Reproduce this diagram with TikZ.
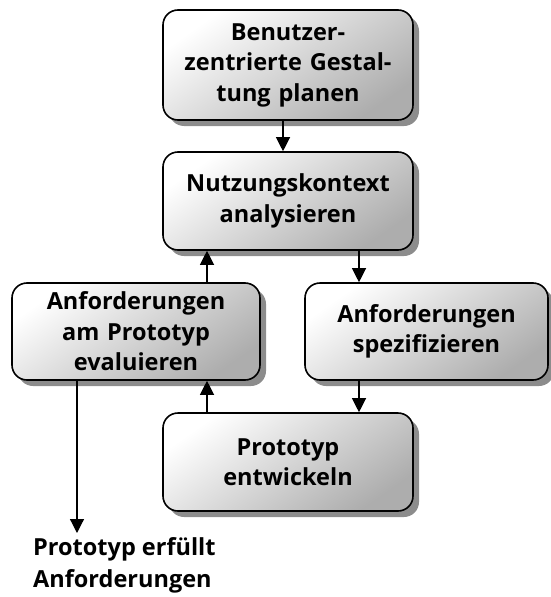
\documentclass[tikz,border=0pt]{standalone}
\usepackage{fontspec}
\setmainfont{Open Sans}
\usetikzlibrary{arrows.meta,shadows}

\begin{document}
\begin{tikzpicture}[x=1pt, y=-1pt,
		box/.style={draw=black, line width=1.6pt, rounded corners=15pt,
			shading=axis, top color=white, bottom color=black!32, shading angle=35,
			drop shadow={shadow xshift=6pt, shadow yshift=-6pt, fill=black!45, opacity=1},
			align=center, inner xsep=0pt, text width=250pt, minimum height=98pt,
			font=\fontsize{23.5}{30.5}\selectfont\bfseries},
		arr/.style={line width=1.2pt, -{Triangle[length=14pt,width=14pt]}}]
	\useasboundingbox (0,0) rectangle (550,597);

	\node[box, minimum height=110pt] (plan) at (288,65) {Benutzer-\\zentrierte Gestal-\\tung planen};
	\node[box] (kontext) at (288,201) {Nutzungskontext\\analysieren};
	\node[box, text width=248pt, minimum height=97pt] (evaluieren) at (136,331.5) {Anforderungen\\am Prototyp\\evaluieren};
	\node[box, text width=243pt, minimum height=97pt] (spezifizieren) at (426.5,331.5) {Anforderungen\\spezifizieren};
	\node[box] (entwickeln) at (288,462) {Prototyp\\entwickeln};
	\node[anchor=north west, align=left, inner sep=0pt, font=\fontsize{23.5}{32}\selectfont\bfseries] (erfuellt) at (33,537) {Prototyp erfüllt\\Anforderungen};

	\coordinate (xa) at (283,0);
	\coordinate (xb) at (207,0);
	\coordinate (xc) at (359,0);
	\coordinate (xd) at (77,0);
	\coordinate (ende) at (77,533);

	\draw[arr] (plan.south -| xa) -- (kontext.north -| xa);
	\draw[arr] (kontext.south -| xc) -- (spezifizieren.north -| xc);
	\draw[arr] (spezifizieren.south -| xc) -- (entwickeln.north -| xc);
	\draw[arr] (entwickeln.north -| xb) -- (evaluieren.south -| xb);
	\draw[arr] (evaluieren.north -| xb) -- (kontext.south -| xb);
	\draw[arr] (evaluieren.south -| xd) -- (ende);
\end{tikzpicture}
\end{document}
